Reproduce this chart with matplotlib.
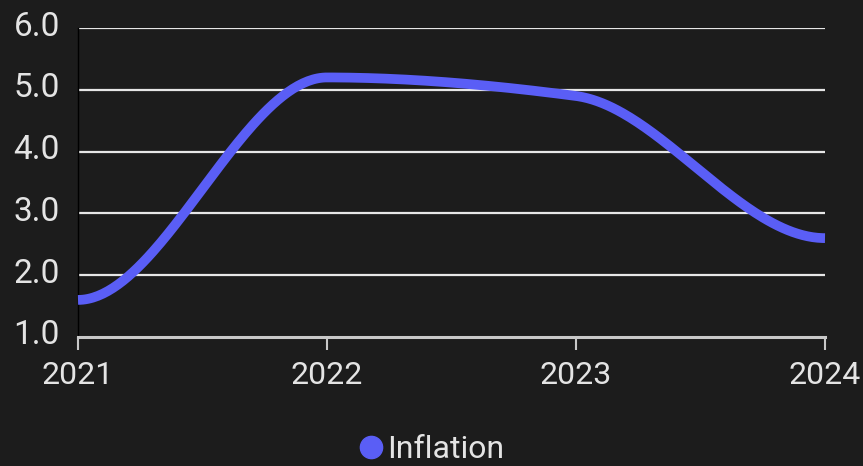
import numpy as np
import matplotlib.pyplot as plt
import matplotlib.transforms as mtransforms
from matplotlib.lines import Line2D

years = [2021, 2022, 2023, 2024]
inflation = [1.6, 5.2, 4.9, 2.6]
y_ticks = [1.0, 2.0, 3.0, 4.0, 5.0, 6.0]

plt.rcParams['font.family'] = ['Roboto', 'DejaVu Sans']


def monotone(x, y, n=300):
    # monotone cubic with flat ends, like the web chart's smoothing
    x = np.asarray(x, float)
    y = np.asarray(y, float)
    h = np.diff(x)
    d = np.diff(y) / h
    m = np.zeros_like(y)
    for i in range(1, len(y) - 1):
        if d[i - 1] * d[i] <= 0:
            m[i] = 0
        else:
            m[i] = 2 / (1 / d[i - 1] + 1 / d[i])
    xs = np.linspace(x[0], x[-1], n)
    ys = np.empty_like(xs)
    for k, xv in enumerate(xs):
        i = min(np.searchsorted(x, xv, side='right') - 1, len(x) - 2)
        t = (xv - x[i]) / h[i]
        h00 = 2 * t**3 - 3 * t**2 + 1
        h10 = t**3 - 2 * t**2 + t
        h01 = -2 * t**3 + 3 * t**2
        h11 = t**3 - t**2
        ys[k] = h00 * y[i] + h10 * h[i] * m[i] + h01 * y[i + 1] + h11 * h[i] * m[i + 1]
    return xs, ys


bg = '#1c1c1c'
line_col = '#5a5ef6'
text_col = '#e4e4e4'

fig = plt.figure(figsize=(8.63, 4.66), dpi=100, facecolor=bg)
ax = fig.add_axes([78 / 863, 1 - 337 / 466, (825 - 78) / 863, (337 - 28) / 466])
ax.set_facecolor(bg)

xs, ys = monotone(years, inflation)
ax.plot(xs, ys, color=line_col, lw=7, solid_capstyle='butt', zorder=3, clip_on=False)

ax.set_xlim(years[0], years[-1])
ax.set_ylim(1.0, 6.0)
ax.set_yticks(y_ticks)
ax.set_yticklabels(['%.1f' % v for v in y_ticks])
ax.set_xticks(years)
ax.set_xticklabels([str(y) for y in years])

for v in y_ticks[1:]:
    ax.axhline(v, color='#e6e6e6', lw=1.6, zorder=1)

for s in ['top', 'right']:
    ax.spines[s].set_visible(False)
ax.spines['left'].set_color('#000000')
ax.spines['left'].set_linewidth(1)
ax.spines['bottom'].set_color('#c8c8c8')
ax.spines['bottom'].set_linewidth(2.2)

ax.tick_params(axis='y', length=0, pad=13, labelsize=24, colors=text_col)
ax.tick_params(axis='x', length=9, width=1.5, color='#c8c8c8', pad=8,
               labelsize=23, labelcolor=text_col)

shift = mtransforms.ScaledTranslation(0, 5 / 100, fig.dpi_scale_trans)
for lab in ax.get_yticklabels():
    lab.set_transform(lab.get_transform() + shift)

handle = Line2D([], [], marker='o', ls='none', markersize=16,
                markerfacecolor=line_col, markeredgecolor=line_col)
fig.legend([handle], ['Inflation'], loc='center', bbox_to_anchor=(430 / 863, 1 - 450 / 466),
           frameon=False, fontsize=23, labelcolor=text_col, handletextpad=0.0,
           handlelength=1.0)

fig.savefig('out.png', dpi=100, facecolor=bg)
